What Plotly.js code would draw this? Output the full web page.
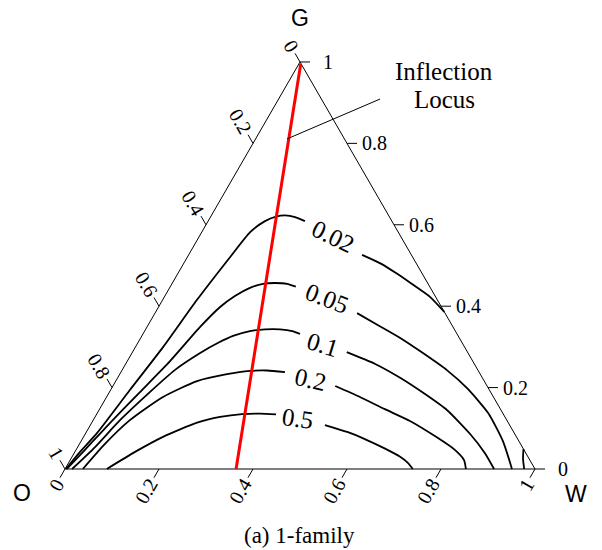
<!DOCTYPE html>
<html>
<head>
<meta charset="utf-8">
<script src="https://cdn.plot.ly/plotly-3.0.1.min.js"></script>
<style>
  html, body { margin: 0; padding: 0; background: #fff; }
  #chart { width: 602px; height: 550px; }
</style>
</head>
<body>
<div id="chart"></div>
<script>
// Compositions are given as (W, G) fractions; O = 1 - W - G.
// null separates pieces of one level (gap for the inline label, extra branch).

const levelNames = ['0.02', '0.05', '0.1', '0.2', '0.5'];

const c002W = [0.002, 0.011, 0.024, 0.041, 0.059, 0.073, 0.091, 0.103, 0.121, 0.139, 0.157, 0.180, 0.206,
               null, 0.369, 0.421, 0.466, 0.510, 0.565, 0.614,
               null, 0.951, 0.962, 0.977];
const c002G = [0.000, 0.042, 0.088, 0.194, 0.300, 0.415, 0.521, 0.582, 0.609, 0.620, 0.623, 0.619, 0.609,
               null, 0.526, 0.504, 0.480, 0.455, 0.423, 0.386,
               null, 0.049, 0.025, 0.000];

const c005W = [0.004, 0.019, 0.039, 0.065, 0.091, 0.113, 0.131, 0.149, 0.171, 0.194, 0.218, 0.245, 0.267,
               null, 0.430, 0.492, 0.550, 0.617, 0.691, 0.757, 0.831, 0.897, 0.951];
const c005G = [0.000, 0.047, 0.113, 0.189, 0.265, 0.349, 0.398, 0.425, 0.445, 0.455, 0.457, 0.455, 0.448,
               null, 0.383, 0.352, 0.323, 0.286, 0.243, 0.198, 0.138, 0.069, 0.000];

const c01W = [0.015, 0.037, 0.057, 0.086, 0.112, 0.145, 0.171, 0.194, 0.224, 0.254, 0.286, 0.314, 0.334,
              null, 0.456, 0.531, 0.601, 0.674, 0.740, 0.819, 0.874, 0.913];
const c01G = [0.000, 0.054, 0.120, 0.189, 0.243, 0.285, 0.310, 0.327, 0.339, 0.343, 0.343, 0.339, 0.332,
              null, 0.287, 0.258, 0.224, 0.184, 0.145, 0.086, 0.039, 0.000];

const c02W = [0.038, 0.054, 0.078, 0.120, 0.173, 0.228, 0.273, 0.309, 0.349,
              null, 0.473, 0.539, 0.607, 0.675, 0.750, 0.806, 0.838, 0.853];
const c02G = [0.000, 0.061, 0.120, 0.177, 0.216, 0.233, 0.241, 0.242, 0.238,
              null, 0.204, 0.177, 0.147, 0.118, 0.079, 0.047, 0.022, 0.000];

const c05W = [0.089, 0.128, 0.169, 0.224, 0.266, 0.309, 0.347, 0.382,
              null, 0.499, 0.555, 0.607, 0.656, 0.698, 0.722, 0.740];
const c05G = [0.000, 0.042, 0.079, 0.114, 0.128, 0.135, 0.136, 0.134,
              null, 0.108, 0.091, 0.071, 0.050, 0.030, 0.015, 0.000];

// Inflection locus
const locusW = [0.004, 0.196, 0.364];
const locusG = [0.995, 0.464, 0.000];

// Axis ticks (same set on every edge)
const tickVals = [0, 0.2, 0.4, 0.6, 0.8, 1];
const tickText = ['0', '0.2', '0.4', '0.6', '0.8', '1'];

// ---- geometry -------------------------------------------------------
const SIDE_PX = 470;                 // triangle side in pixels
const R3 = Math.sqrt(3) / 2;
function toXY(w, g) {
  if (w === null || g === null) return [null, null];
  return [w + g / 2, g * R3];
}
function project(W, G) {
  const x = [], y = [];
  for (let i = 0; i < W.length; i++) {
    const p = toXY(W[i], G[i]);
    x.push(p[0]); y.push(p[1]);
  }
  return { x, y };
}
const px = v => v / SIDE_PX;         // pixel length -> data length

const serif = 'Liberation Serif, Times New Roman, serif';
const sans = 'Liberation Sans, Arial, sans-serif';

const traces = [];

// triangle frame
const frame = project([0, 1, 0, 0], [0, 0, 1, 0]);
traces.push({ x: frame.x, y: frame.y, mode: 'lines', type: 'scatter',
  line: { color: '#000', width: 1 }, hoverinfo: 'skip', showlegend: false });

// ticks and tick labels
const TICK = px(10);
const tx = [], ty = [];
const annotations = [];
const tickFont = { family: serif, size: 20, color: '#000' };

// edge definitions: point on edge for value v, outward tick direction, label angle
const edges = [
  // left edge carries the O fraction (1 at O, 0 at G)
  { at: v => toXY(0, 1 - v), dir: [-0.5, R3], angle: 60, label: 'along' },
  // bottom edge carries the W fraction
  { at: v => toXY(v, 0), dir: [-0.5, -R3], angle: -60, label: 'along' },
  // right edge carries the G fraction
  { at: v => toXY(1 - v, v), dir: [1, 0], angle: 0, label: 'right' }
];

edges.forEach(e => {
  tickVals.forEach((v, i) => {
    const p = e.at(v);
    const q = [p[0] + e.dir[0] * TICK, p[1] + e.dir[1] * TICK];
    tx.push(p[0], q[0], null);
    ty.push(p[1], q[1], null);
    const txt = tickText[i];
    let off;
    if (e.label === 'right') off = px(txt.length === 1 ? 18 : 17);
    else off = px(3 + (txt.length === 1 ? 5 : 12.5));
    annotations.push({
      x: q[0] + e.dir[0] * off, y: q[1] + e.dir[1] * off,
      xref: 'x', yref: 'y', text: txt, showarrow: false,
      textangle: e.angle, font: tickFont,
      xanchor: 'center', yanchor: 'middle'
    });
  });
});
traces.push({ x: tx, y: ty, mode: 'lines', type: 'scatter',
  line: { color: '#000', width: 1 }, hoverinfo: 'skip', showlegend: false });

// contour lines
[[c002W, c002G], [c005W, c005G], [c01W, c01G], [c02W, c02G], [c05W, c05G]].forEach((c, k) => {
  const p = project(c[0], c[1]);
  traces.push({ x: p.x, y: p.y, mode: 'lines', type: 'scatter', name: levelNames[k],
    line: { color: '#000', width: 1.8, shape: 'spline', smoothing: 0.6 },
    connectgaps: false, hoverinfo: 'skip', showlegend: false });
});

// inflection locus
const loc = project(locusW, locusG);
traces.push({ x: loc.x, y: loc.y, mode: 'lines', type: 'scatter', name: 'Inflection Locus',
  line: { color: '#ff0000', width: 3 }, hoverinfo: 'skip', showlegend: false });

// inline contour labels (position as W, G; angle follows the curve)
const levelLabels = [
  { w: 0.285, g: 0.570, angle: 26 },
  { w: 0.349, g: 0.418, angle: 21 },
  { w: 0.395, g: 0.305, angle: 17 },
  { w: 0.411, g: 0.221, angle: 13 },
  { w: 0.434, g: 0.123, angle: 8 }
];
levelLabels.forEach((l, k) => {
  const p = toXY(l.w, l.g);
  annotations.push({ x: p[0], y: p[1], xref: 'x', yref: 'y', text: levelNames[k],
    showarrow: false, textangle: l.angle, xanchor: 'center', yanchor: 'middle',
    font: { family: serif, size: 25, color: '#000' } });
});

// corner names, callout text and caption (centres in paper fractions)
const paperText = (x, y, text, family, size) => ({
  x, y, xref: 'paper', yref: 'paper', text, showarrow: false,
  xanchor: 'center', yanchor: 'middle', font: { family, size, color: '#000' }
});
annotations.push(
  paperText(0.4983, 0.967, 'G', sans, 23),
  paperText(0.0365, 0.1036, 'O', sans, 23),
  paperText(0.9568, 0.1018, 'W', sans, 23),
  paperText(0.7375, 0.8691, 'Inflection', serif, 25),
  paperText(0.7392, 0.8200, 'Locus', serif, 25),
  paperText(0.4983, 0.0264, '(a) 1-family', serif, 23)
);

// leader from the locus to the callout text
const leadA = toXY(0.067, 0.811);
const leadB = toXY(0.216, 0.909);
const shapes = [{ type: 'line', xref: 'x', yref: 'y',
  x0: leadA[0], y0: leadA[1], x1: leadB[0], y1: leadB[1],
  line: { color: '#000', width: 1 } }];

// axis ranges chosen so one data unit = SIDE_PX pixels on both axes
const OX = 65, OY = 469, W_PX = 602, H_PX = 550;
const layout = {
  width: W_PX, height: H_PX,
  margin: { l: 0, r: 0, t: 0, b: 0 },
  paper_bgcolor: '#fff', plot_bgcolor: '#fff',
  showlegend: false,
  xaxis: { range: [-OX / SIDE_PX, (W_PX - OX) / SIDE_PX], visible: false, fixedrange: true },
  yaxis: { range: [-(H_PX - OY) / SIDE_PX, OY / SIDE_PX], visible: false, fixedrange: true },
  annotations: annotations,
  shapes: shapes
};

Plotly.newPlot('chart', traces, layout, { staticPlot: true, displayModeBar: false });
</script>
</body>
</html>
